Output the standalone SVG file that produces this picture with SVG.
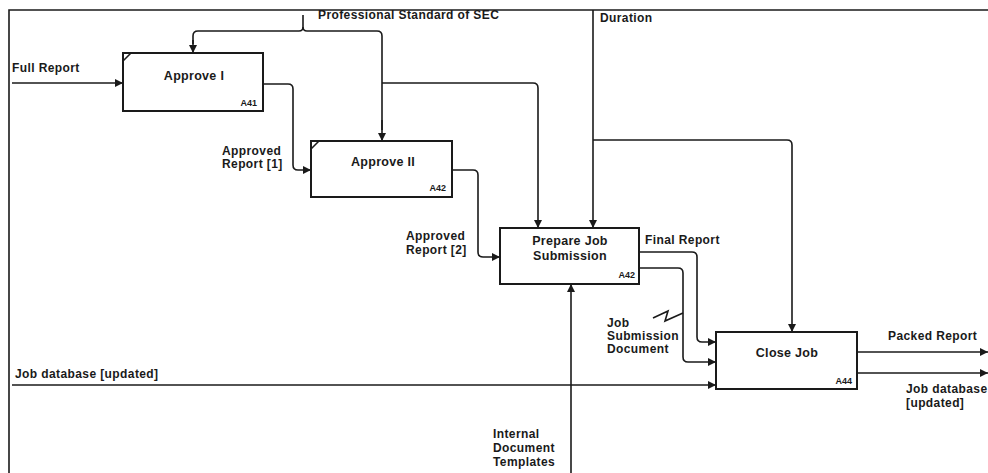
<svg xmlns="http://www.w3.org/2000/svg" width="988" height="473" viewBox="0 0 988 473">
<defs>
<style>
text{font-family:"Liberation Sans",Arial,sans-serif;font-weight:bold;fill:#1a1a1a}
.lbl{font-size:12px;letter-spacing:0.4px}
.ttl{font-size:12.5px;letter-spacing:0.3px}
.num{font-size:9px}
.box{fill:#fff;stroke:#1a1a1a;stroke-width:2}
.ln{fill:none;stroke:#1a1a1a;stroke-width:1.6}
.ar{fill:none;stroke:#1a1a1a;stroke-width:1.6;marker-end:url(#ah)}
</style>
<marker id="ah" viewBox="0 0 10 10" refX="10" refY="5" markerWidth="8" markerHeight="8" markerUnits="userSpaceOnUse" orient="auto">
<path d="M0,0 L10,5 L0,10 Z" fill="#1a1a1a"/>
</marker>
</defs>
<rect width="988" height="473" fill="#fff"/>
<path class="ln" d="M9,473 V10 H988" stroke-width="2"/>

<g id="connectors">
<path class="ar" d="M12,83 H123"/>
<path class="ar" d="M263,84 H288 Q293,84 293,89 V165 Q293,170 298,170 H311"/>
<path class="ln" d="M303,15 V27 Q303,31 299,31 H198 Q193,31 193,36 V44"/>
<path class="ar" d="M193,40 V53"/>
<path class="ln" d="M303,27 Q303,31 307,31 H377 Q382,31 382,36 V130"/>
<path class="ar" d="M382,120 V141"/>
<path class="ar" d="M382,83 H533 Q538,83 538,88 V228"/>
<path class="ar" d="M593,10 V228"/>
<path class="ar" d="M593,140 H787 Q792,140 792,145 V332"/>
<path class="ar" d="M452,170 H473 Q478,170 478,175 V252 Q478,257 483,257 H500"/>
<path class="ar" d="M571,473 V284"/>
<path class="ar" d="M639,252 H692 Q697,252 697,257 V337 Q697,342 702,342 H716"/>
<path class="ar" d="M639,268 H678 Q683,268 683,273 V357 Q683,362 688,362 H716"/>
<path class="ln" d="M653,318 L668,311 L665,321 L683,313"/>
<path class="ar" d="M12,385 H716"/>
<path class="ar" d="M857,352 H988"/>
<path class="ar" d="M857,373 H988"/>
</g>

<g id="labels">
<text class="lbl" x="12" y="72">Full Report</text>
<text class="lbl" x="318" y="19">Professional Standard of SEC</text>
<text class="lbl" x="600" y="22">Duration</text>
<text class="lbl" x="222" y="155">Approved</text>
<text class="lbl" x="222" y="168">Report [1]</text>
<text class="lbl" x="406" y="240">Approved</text>
<text class="lbl" x="406" y="254">Report [2]</text>
<text class="lbl" x="645" y="244">Final Report</text>
<text class="lbl" x="607" y="327">Job</text>
<text class="lbl" x="607" y="340">Submission</text>
<text class="lbl" x="607" y="353">Document</text>
<text class="lbl" x="493" y="438">Internal</text>
<text class="lbl" x="493" y="452">Document</text>
<text class="lbl" x="493" y="466">Templates</text>
<text class="lbl" x="888" y="340">Packed Report</text>
<text class="lbl" x="906" y="393">Job database</text>
<text class="lbl" x="906" y="407">[updated]</text>
<text class="lbl" x="15" y="378">Job database [updated]</text>
</g>

<g id="A41">
<rect class="box" x="123" y="53" width="140" height="58"/>
<path class="ln" d="M123,61 L131,53"/>
<text class="ttl" x="194" y="80" text-anchor="middle">Approve I</text>
<text class="num" x="257" y="106" text-anchor="end">A41</text>
</g>

<g id="A42a">
<rect class="box" x="311" y="141" width="141" height="56"/>
<path class="ln" d="M311,149 L319,141"/>
<text class="ttl" x="383" y="166" text-anchor="middle">Approve II</text>
<text class="num" x="446" y="191" text-anchor="end">A42</text>
</g>

<g id="A43">
<rect class="box" x="500" y="228" width="139" height="56"/>
<text class="ttl" x="570" y="245" text-anchor="middle">Prepare Job</text>
<text class="ttl" x="570" y="260" text-anchor="middle">Submission</text>
<text class="num" x="635" y="278" text-anchor="end">A42</text>
</g>

<g id="A44">
<rect class="box" x="716" y="332" width="141" height="57"/>
<text class="ttl" x="787" y="357" text-anchor="middle">Close Job</text>
<text class="num" x="852" y="384" text-anchor="end">A44</text>
</g>
</svg>
